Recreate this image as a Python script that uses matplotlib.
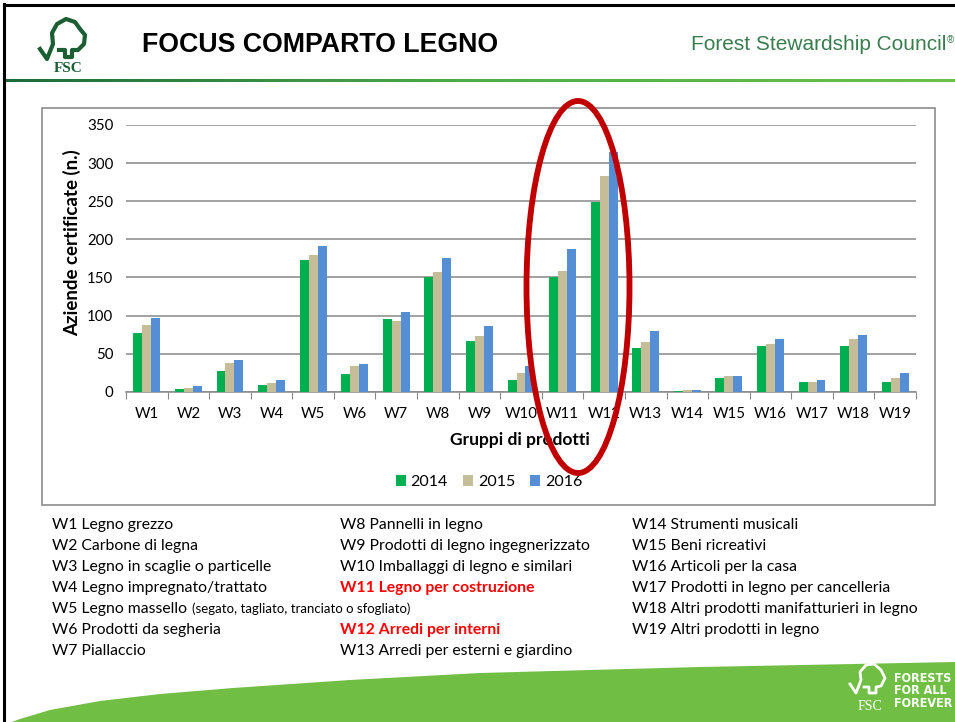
import numpy as np
import matplotlib.pyplot as plt
from matplotlib.patches import Rectangle, Ellipse, Polygon
from matplotlib.lines import Line2D

# --- data ---
groups = ['W1', 'W2', 'W3', 'W4', 'W5', 'W6', 'W7', 'W8', 'W9', 'W10',
          'W11', 'W12', 'W13', 'W14', 'W15', 'W16', 'W17', 'W18', 'W19']
years = ['2014', '2015', '2016']
v2014 = [77, 3, 27, 9, 173, 23, 96, 150, 66, 16, 150, 249, 58, 1, 18, 60, 13, 60, 13]
v2015 = [87, 5, 38, 12, 179, 34, 93, 157, 73, 25, 159, 283, 65, 2, 20, 63, 13, 69, 18]
v2016 = [97, 7, 42, 15, 191, 36, 104, 175, 86, 34, 187, 315, 80, 2, 21, 69, 15, 75, 25]
colors = ['#00B050', '#C4BD97', '#558ED5']

col1 = ['W1 Legno grezzo', 'W2 Carbone di legna', 'W3 Legno in scaglie o particelle',
        'W4 Legno impregnato/trattato', 'W5 Legno massello', 'W6 Prodotti da segheria',
        'W7 Piallaccio']
col2 = ['W8 Pannelli in legno', 'W9 Prodotti di legno ingegnerizzato',
        'W10 Imballaggi di legno e similari', 'W11 Legno per costruzione', '',
        'W12 Arredi per interni', 'W13 Arredi per esterni e giardino']
col3 = ['W14 Strumenti musicali', 'W15 Beni ricreativi', 'W16 Articoli per la casa',
        'W17 Prodotti in legno per cancelleria', 'W18 Altri prodotti manifatturieri in legno',
        'W19 Altri prodotti in legno']
highlight = ['W11 Legno per costruzione', 'W12 Arredi per interni']

W, H = 955, 722
def fx(x):
    return x / W
def fy(y):
    return 1 - y / H

plt.rcParams['font.family'] = ['Lato', 'DejaVu Sans']
fig = plt.figure(figsize=(W / 100, H / 100), dpi=100)
fig.patch.set_facecolor('white')

# slide frame and header
fig.add_artist(Line2D([fx(4), fx(4)], [0, fy(4)], color='black', lw=2.2))
fig.add_artist(Line2D([fx(4), 1], [fy(5), fy(5)], color='black', lw=2.2))
grad = fig.add_axes([fx(4), fy(82), 1 - fx(4), 3 / H])
grad.imshow(np.linspace(0, 1, 256)[None, :], aspect='auto',
            cmap=plt.matplotlib.colors.LinearSegmentedColormap.from_list('g', ['#1d6b3a', '#4fae4a', '#6cc04a']))
grad.axis('off')

fig.text(fx(142), fy(45), 'FOCUS COMPARTO LEGNO', fontsize=19.3, fontweight='bold',
         family='Liberation Sans', va='center', ha='left')
fig.text(fx(946), fy(45), 'Forest Stewardship Council', fontsize=15,
         family='Liberation Sans', color='#3a7d4e', va='center', ha='right')
fig.text(fx(947), fy(40), '\u00ae', fontsize=7, family='Liberation Sans',
         color='#3a7d4e', va='center', ha='left')

# FSC logo (rough)
logo = [(40, 49), (47, 59), (53, 44), (52, 33), (57, 24), (66, 19), (75, 22), (80, 29),
        (85, 35), (84, 44), (78, 50), (72, 50), (72, 57), (65, 57), (65, 50), (59, 50)]
fig.add_artist(Line2D([fx(p[0]) for p in logo], [fy(p[1]) for p in logo],
                      color='#1c5e34', lw=3, solid_joinstyle='round'))
fig.text(fx(68), fy(69), 'FSC', fontsize=11, family='Liberation Serif', fontweight='bold',
         color='#1c5e34', ha='center', va='center')

# chart box
fig.add_artist(Rectangle((fx(42), fy(505)), fx(935) - fx(42), fy(108) - fy(505),
                         transform=fig.transFigure, fill=False, edgecolor='#8c8c8c', lw=1.2))

ax = fig.add_axes([fx(126), fy(391.7), fx(916) - fx(126), fy(125) - fy(391.7)])
x = np.arange(len(groups))
bw = 0.215
for i, (vals, c, yr) in enumerate(zip([v2014, v2015, v2016], colors, years)):
    ax.bar(x + (i - 1) * bw, vals, bw, color=c, label=yr, zorder=3, linewidth=0)

ax.set_xlim(-0.5, len(groups) - 0.5)
ax.set_ylim(0, 350)
ax.set_yticks(np.arange(0, 351, 50))
ax.yaxis.grid(True, color='#888888', lw=1.1, zorder=0)
for s in ['top', 'right', 'left']:
    ax.spines[s].set_visible(False)
ax.spines['bottom'].set_color('#888888')
ax.spines['bottom'].set_linewidth(1.1)
ax.tick_params(axis='y', length=0, labelsize=10.8, pad=9)
ax.set_xticks(np.arange(-0.5, len(groups)), minor=False)
ax.set_xticklabels([])
ax.set_xticks(x, minor=True)
ax.set_xticklabels(groups, minor=True, fontsize=10.8)
ax.tick_params(axis='x', which='major', length=5, color='#888888', direction='out')
ax.tick_params(axis='x', which='minor', length=0, pad=11)

fig.text(fx(72), fy(243), 'Aziende certificate (n.)', rotation=90, fontsize=13.5,
         fontweight='bold', ha='center', va='center')
fig.text(fx(520), fy(440), 'Gruppi di prodotti', fontsize=12.5, fontweight='bold',
         ha='center', va='center')

handles, labels = ax.get_legend_handles_labels()
fig.legend(handles, labels, loc='center', bbox_to_anchor=(fx(489), fy(482)), ncol=3,
           frameon=False, fontsize=11.5, handlelength=0.62, handleheight=0.62,
           handletextpad=0.3, columnspacing=0.95)

# red ellipse highlight
fig.add_artist(Ellipse((fx(578), fy(287)), 103 / W, 372 / H, transform=fig.transFigure,
                       fill=False, edgecolor='#C00000', lw=4.2, zorder=10))

# bottom green swoosh
sw = [(12, 722), (20, 719), (50, 710), (100, 701), (160, 694), (233, 688), (350, 680),
      (480, 673), (700, 667), (955, 662), (955, 722)]
fig.add_artist(Polygon([(fx(a), fy(b)) for a, b in sw], closed=True, transform=fig.transFigure,
                       facecolor='#70BF44', edgecolor='none', zorder=1))

# group descriptions
rows = [525, 546, 567, 588, 609, 630, 651]
for lbls, xpos in [(col1, 52), (col2, 340), (col3, 632)]:
    for t, yy in zip(lbls, rows):
        if not t:
            continue
        red = t in highlight
        fig.text(fx(xpos), fy(yy), t, fontsize=11.3, va='center', ha='left',
                 color='#FF0000' if red else 'black', fontweight='bold' if red else 'normal')
fig.text(fx(192), fy(609), '(segato, tagliato, tranciato o sfogliato)', fontsize=9.5,
         va='center', ha='left')

# bottom-right logo
fig.text(fx(894), fy(691), 'FORESTS\nFOR ALL\nFOREVER', fontsize=9, fontweight='heavy',
         family='DejaVu Sans', color='white', ha='left', va='center', linespacing=0.92,
         zorder=5, fontstretch='condensed')
fig.text(fx(870), fy(707), 'FSC', fontsize=10, family='Liberation Serif', color='white',
         ha='center', va='center', zorder=5)
tree = [(850, 684), (856, 693), (861, 680), (860, 672), (866, 665), (874, 664), (881, 670),
        (885, 678), (881, 686), (876, 687), (876, 693), (869, 693), (869, 687), (864, 687)]
fig.add_artist(Line2D([fx(p[0]) for p in tree], [fy(p[1]) for p in tree],
                      color='white', lw=2, zorder=5))

fig.savefig('out.png', dpi=100)
